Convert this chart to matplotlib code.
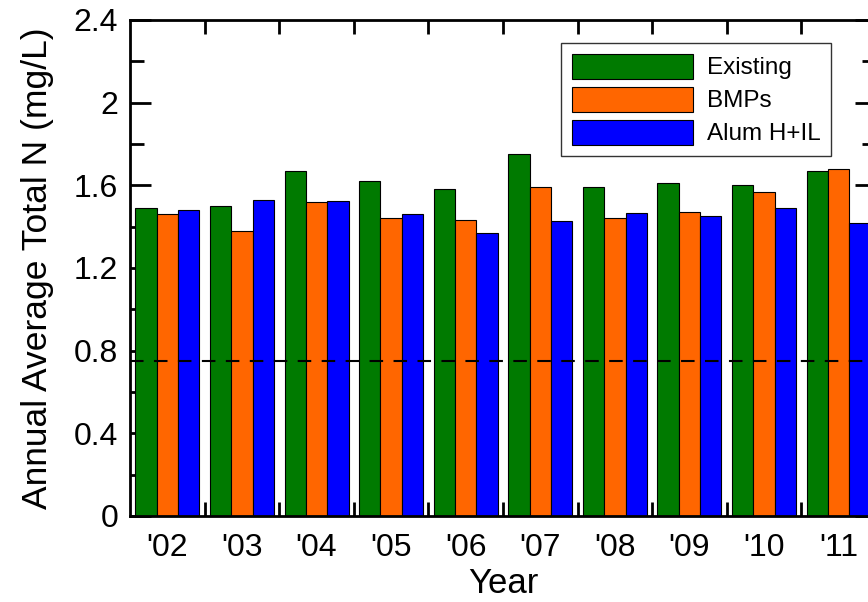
import matplotlib.pyplot as plt
import numpy as np

plt.rcParams['font.family'] = ['Liberation Sans', 'DejaVu Sans']

years = ["'02", "'03", "'04", "'05", "'06", "'07", "'08", "'09", "'10", "'11"]
existing = [1.49, 1.50, 1.67, 1.62, 1.58, 1.75, 1.59, 1.61, 1.60, 1.67]
bmps = [1.46, 1.38, 1.52, 1.44, 1.43, 1.59, 1.44, 1.47, 1.57, 1.68]
alum = [1.48, 1.53, 1.525, 1.46, 1.37, 1.425, 1.465, 1.45, 1.49, 1.42]
target = 0.75  # dashed reference line

x = np.arange(len(years))
w = 0.286

fig = plt.figure(figsize=(8.68, 6.02), dpi=100)
ax = fig.add_axes([0.1498, 0.1429, 0.8594, 0.8239])

ax.bar(x - w, existing, w, color='#007A00', edgecolor='black', linewidth=0.8, label='Existing', zorder=2)
ax.bar(x, bmps, w, color='#FF6600', edgecolor='black', linewidth=0.8, label='BMPs', zorder=2)
ax.bar(x + w, alum, w, color='#0000FF', edgecolor='black', linewidth=0.8, label='Alum H+IL', zorder=2)
ax.axhline(target, color='black', linewidth=1.5, dashes=(6.5, 5), zorder=3)

ax.set_xlim(-0.5, 9.5)
ax.set_ylim(0, 2.4)
ax.set_xticks(x)
ax.set_xticklabels(years)
ax.set_xticks(x[:-1] + 0.5, minor=True)
ax.set_yticks(np.arange(0, 2.41, 0.4))
ax.set_yticklabels(['0', '0.4', '0.8', '1.2', '1.6', '2', '2.4'])
ax.set_yticks(np.arange(0.2, 2.4, 0.4), minor=True)

ax.tick_params(axis='x', which='major', length=0, labelsize=23, pad=12)
ax.tick_params(axis='x', which='minor', direction='in', length=10, width=2, top=True, bottom=True)
ax.tick_params(axis='y', which='major', direction='in', length=15, width=2, left=True, right=True,
               labelsize=23, pad=8.5)
ax.tick_params(axis='y', which='minor', direction='in', length=10, width=2, left=True, right=True)
for s in ax.spines.values():
    s.set_linewidth(2)

ax.set_xlabel('Year', fontsize=25, labelpad=3)
ax.set_ylabel('Annual Average Total N (mg/L)', fontsize=25.5, labelpad=14)

leg = ax.legend(loc='upper right', bbox_to_anchor=(0.94, 0.954), fontsize=17.5, frameon=True,
                fancybox=False, handlelength=5.0, handleheight=1.2, labelspacing=0.3,
                handletextpad=0.55, borderpad=0.45, borderaxespad=0)
leg.get_frame().set_edgecolor('black')
leg.get_frame().set_linewidth(1)

plt.savefig('out.png', dpi=100)
